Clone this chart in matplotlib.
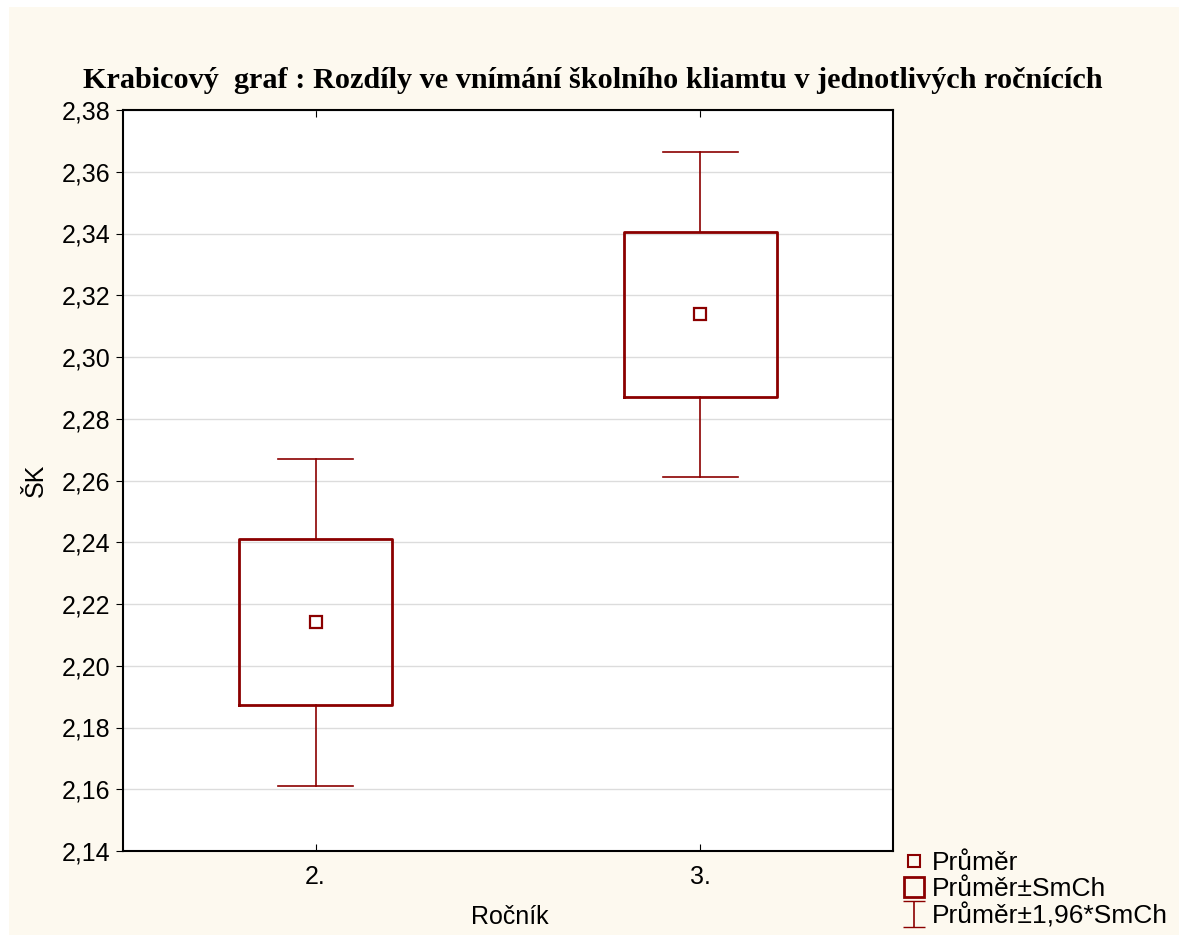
import matplotlib
matplotlib.use("Agg")
import matplotlib.pyplot as plt
import numpy as np
from matplotlib.lines import Line2D
from matplotlib.patches import Rectangle

# data: mean, mean +- SE, mean +- 1.96*SE
groups = ["2.", "3."]
means = [2.2142, 2.3139]
se_low = [2.1872, 2.2872]
se_high = [2.2410, 2.3405]
ci_low = [2.1610, 2.2612]
ci_high = [2.2670, 2.3665]
y_ticks = [2.14, 2.16, 2.18, 2.20, 2.22, 2.24, 2.26, 2.28, 2.30, 2.32, 2.34, 2.36, 2.38]
y_labels = ["%.2f" % v for v in y_ticks]
y_labels = [s.replace(".", ",") for s in y_labels]

red = "#8b0000"
cream = "#fdf9ef"

fig = plt.figure(figsize=(11.79, 9.35), dpi=100, facecolor="white")
fig.patches.append(Rectangle((9 / 1179, 0), 1, 1 - 7 / 935, transform=fig.transFigure,
                             facecolor=cream, edgecolor="none", zorder=-10))

ax = fig.add_axes([123 / 1179, 84 / 935, 770 / 1179, 741 / 935])
ax.set_facecolor("white")

stats = []
for i in range(len(groups)):
    stats.append({"med": means[i], "mean": means[i], "q1": se_low[i], "q3": se_high[i],
                  "whislo": ci_low[i], "whishi": ci_high[i], "fliers": []})

ax.bxp(stats, positions=[1, 2], widths=0.395, capwidths=0.197, showmeans=True,
       boxprops=dict(color=red, linewidth=2.0),
       whiskerprops=dict(color=red, linewidth=1.2),
       capprops=dict(color=red, linewidth=1.2),
       medianprops=dict(visible=False),
       meanprops=dict(marker="s", markersize=8, markerfacecolor="none",
                      markeredgecolor=red, markeredgewidth=1.6),
       showfliers=False)

ax.set_xlim(0.5, 2.5)
ax.set_ylim(2.14, 2.38)
ax.set_xticks([1, 2])
ax.set_xticklabels(groups)
ax.set_yticks(y_ticks)
ax.set_yticklabels(y_labels)
ax.yaxis.grid(True, color="#dcdcdc", linewidth=1.0)
ax.set_axisbelow(True)
ax.tick_params(axis="x", direction="in", top=True, length=5, labelsize=18, pad=10)
ax.tick_params(axis="y", direction="out", length=5, labelsize=18, pad=4)
for sp in ax.spines.values():
    sp.set_linewidth(1.5)
for lab in ax.get_xticklabels() + ax.get_yticklabels():
    lab.set_family("Liberation Sans")

fig.text(0.503, 1 - 80 / 935, "Krabicový  graf : Rozdíly ve vnímání školního kliamtu v jednotlivých ročnících",
         ha="center", va="center", family="Liberation Serif", fontweight="bold", fontsize=21.8)
fig.text(36 / 1179, 1 - 480 / 935, "ŠK", rotation=90, ha="center", va="center",
         family="Liberation Sans", fontsize=18)
fig.text(510 / 1179, 1 - 917 / 935, "Ročník", ha="center", va="center",
         family="Liberation Sans", fontsize=18)

# legend
h1 = Line2D([], [], linestyle="none", marker="s", markersize=8, markerfacecolor="none",
            markeredgecolor=red, markeredgewidth=1.5)
h2 = Line2D([], [], linestyle="none", marker="s", markersize=15, markerfacecolor="none",
            markeredgecolor=red, markeredgewidth=2.0)
h3 = ax.errorbar([np.nan], [np.nan], yerr=[[1], [1]], fmt="none", ecolor=red,
                 elinewidth=1.2, capsize=8)
leg = fig.legend([h1, h2, h3], ["Průměr", "Průměr±SmCh", "Průměr±1,96*SmCh"],
                 loc="lower left", bbox_to_anchor=(894 / 1179, -0.004), frameon=False,
                 handlelength=0.75, handletextpad=0.3, labelspacing=0.08,
                 borderaxespad=0.0, handleheight=0.7,
                 prop={"family": "Liberation Sans", "size": 19})

fig.savefig("out.png", dpi=100, facecolor=fig.get_facecolor())
